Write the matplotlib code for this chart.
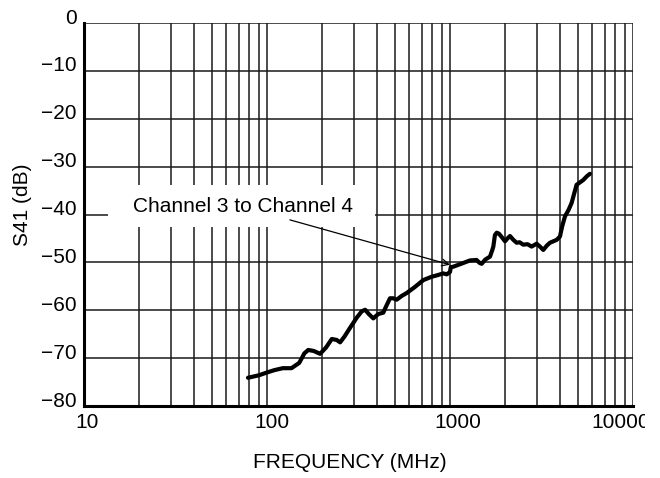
import matplotlib
matplotlib.use("Agg")
import matplotlib.pyplot as plt
from matplotlib.patches import Rectangle
from matplotlib.transforms import Bbox, offset_copy, blended_transform_factory

plt.rcParams['font.family'] = ['Liberation Sans', 'DejaVu Sans']

# S41, channel 3 to channel 4
freq = [78.7, 90, 100, 110, 122, 136, 150, 160, 168, 180, 195, 210, 226, 240,
        251, 265, 284, 310, 330, 344, 360, 381, 405, 432, 450, 470, 490, 511,
        545, 580, 640, 715, 794, 850, 919, 960, 1000, 1010, 1043, 1150, 1285,
        1397, 1450, 1489, 1560, 1654, 1700, 1725, 1760, 1800, 1850, 1916, 1998,
        2060, 2128, 2220, 2313, 2400, 2515, 2650, 2794, 2974, 3100, 3234, 3380,
        3516, 3826, 3989, 4100, 4248, 4450, 4618, 4780, 4917, 5345, 5600, 5817]
s41 = [-74.1, -73.6, -73.0, -72.5, -72.1, -72.1, -71.0, -69.0, -68.3, -68.5,
       -69.1, -67.8, -66.0, -66.2, -66.7, -65.5, -63.7, -61.5, -60.2, -59.9,
       -60.8, -61.7, -60.8, -60.5, -59.0, -57.5, -57.5, -57.8, -57.0, -56.4,
       -55.2, -53.7, -53.0, -52.7, -52.3, -52.5, -52.0, -51.0, -50.9, -50.3,
       -49.6, -49.5, -50.1, -50.3, -49.4, -48.8, -47.5, -46.7, -44.3, -43.8,
       -44.0, -44.7, -45.6, -45.0, -44.5, -45.3, -45.9, -45.8, -46.3, -46.2,
       -46.7, -46.1, -46.7, -47.4, -46.5, -45.9, -45.3, -44.6, -42.5, -40.4,
       -39.0, -37.6, -35.5, -33.8, -32.8, -32.0, -31.5]

xticks = [10, 100, 1000, 10000]
xtick_labels = ['10', '100', '1000', '10000']
yticks = [0, -10, -20, -30, -40, -50, -60, -70, -80]
ytick_labels = ['0', '\u221210', '\u221220', '\u221230', '\u221240',
                '\u221250', '\u221260', '\u221270', '\u221280']

W, H = 660, 478
fig = plt.figure(figsize=(W / 100, H / 100), dpi=100)
ax = fig.add_axes([84 / W, 1 - 406 / H, (633 - 84) / W, (406 - 23) / H])
ax.set_xscale('log')
ax.set_xlim(10, 10000)
ax.set_ylim(-80, 0)

gc = '#1a1a1a'
minor = [m * 10 ** d for d in range(1, 4) for m in range(2, 10)]
for x in minor + xticks[1:]:
    ax.axvline(x, color=gc, lw=1.1, zorder=1)
for y in yticks[:-1]:
    ax.axhline(y, color=gc, lw=1.1, zorder=1)

ax.set_xticks([])
ax.set_yticks([])
ax.minorticks_off()
for s in ['top', 'right']:
    ax.spines[s].set_visible(False)
for s in ['left', 'bottom']:
    ax.spines[s].set_linewidth(2.2)
    ax.spines[s].set_zorder(5)

ax.plot(freq, s41, color='black', lw=3.0, solid_capstyle='round',
        solid_joinstyle='round', zorder=4)

# tick labels, placed by hand like the original
bx = blended_transform_factory(ax.transData, ax.transAxes)
xoff = [3.5, 5, 8, -12]
for x, lab, dx in zip(xticks, xtick_labels, xoff):
    t = ax.text(x, 0, lab, transform=offset_copy(bx, fig=fig, x=dx, y=-17, units='dots'),
                ha='center', va='center', fontsize=15)
    if lab == '10000':
        t.set_clip_on(True)
        t.set_clip_box(Bbox.from_extents(0, 0, 645, H))
    else:
        t.set_clip_on(False)

by = blended_transform_factory(ax.transAxes, ax.transData)
for y, lab in zip(yticks, ytick_labels):
    ax.text(0, y, lab, transform=offset_copy(by, fig=fig, x=-7, y=5, units='dots'),
            ha='right', va='center', fontsize=15, clip_on=False)

fig.text(350 / W, 1 - 463 / H, 'FREQUENCY (MHz)', ha='center', va='center', fontsize=15)
fig.text(23 / W, 1 - 205 / H, 'S41 (dB)', ha='center', va='center',
         rotation=90, fontsize=15)

# label box
ax.add_patch(Rectangle((0.0437, 0.467), 0.530 - 0.0437, 0.577 - 0.467,
                       transform=ax.transAxes, facecolor='white',
                       edgecolor='none', zorder=2))
ax.annotate('', xy=(1000, -50.5), xytext=(0.375, 0.486),
            textcoords='axes fraction',
            arrowprops=dict(arrowstyle='->', color='black', lw=0.9,
                            mutation_scale=12, shrinkA=0, shrinkB=0),
            zorder=3)
ax.text(0.289, 0.520, 'Channel 3 to Channel 4', transform=ax.transAxes,
        ha='center', va='center', fontsize=15, zorder=3)

fig.savefig('out.png', dpi=100)
